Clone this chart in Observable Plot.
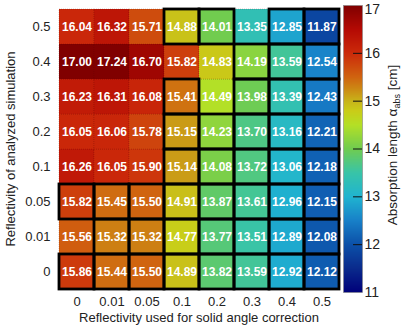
<!DOCTYPE html>
<html>
<head>
<meta charset="utf-8">
<script src="https://cdn.jsdelivr.net/npm/d3@7"></script>
<script src="https://cdn.jsdelivr.net/npm/@observablehq/plot@0.6"></script>
<style>
  html, body { margin: 0; padding: 0; background: #fff; }
  #wrap { position: relative; width: 409px; height: 325px; overflow: hidden; font-family: "Liberation Sans", Arial, Helvetica, sans-serif; }
  #wrap > svg, #wrap > figure { position: absolute; top: 0; margin: 0; }
</style>
</head>
<body>
<div id="wrap"></div>
<script>
// Categories (reflectivities)
const xCats = ["0", "0.01", "0.05", "0.1", "0.2", "0.3", "0.4", "0.5"]; // used for solid angle correction
const yCats = ["0", "0.01", "0.05", "0.1", "0.2", "0.3", "0.4", "0.5"]; // analyzed simulation

// Absorption length values, one array per analyzed-simulation reflectivity (row)
const row0    = [15.86, 15.44, 15.50, 14.89, 13.82, 13.59, 12.92, 12.12];
const row0_01 = [15.56, 15.32, 15.32, 14.77, 13.77, 13.51, 12.89, 12.08];
const row0_05 = [15.82, 15.45, 15.50, 14.91, 13.87, 13.61, 12.96, 12.15];
const row0_1  = [16.26, 16.05, 15.90, 15.14, 14.08, 13.72, 13.06, 12.18];
const row0_2  = [16.05, 16.06, 15.78, 15.15, 14.23, 13.70, 13.16, 12.21];
const row0_3  = [16.23, 16.31, 16.08, 15.41, 14.49, 13.98, 13.39, 12.43];
const row0_4  = [17.00, 17.24, 16.70, 15.82, 14.83, 14.19, 13.59, 12.54];
const row0_5  = [16.04, 16.32, 15.71, 14.88, 14.01, 13.35, 12.85, 11.87];

// Highlighted (black outlined) cells, per row
const hl0    = [1, 1, 1, 1, 1, 1, 1, 1];
const hl0_01 = [0, 1, 1, 1, 1, 1, 1, 1];
const hl0_05 = [1, 1, 1, 1, 1, 1, 1, 1];
const hl0_1  = [0, 0, 0, 1, 1, 1, 1, 1];
const hl0_2  = [0, 0, 0, 1, 1, 1, 1, 1];
const hl0_3  = [0, 0, 0, 1, 0, 1, 1, 1];
const hl0_4  = [0, 0, 0, 0, 0, 1, 1, 1];
const hl0_5  = [0, 0, 0, 1, 1, 0, 1, 1];

const colorTicks = [11, 12, 13, 14, 15, 16, 17];

const rows = [row0, row0_01, row0_05, row0_1, row0_2, row0_3, row0_4, row0_5];
const hls  = [hl0, hl0_01, hl0_05, hl0_1, hl0_2, hl0_3, hl0_4, hl0_5];
const data = [];
yCats.forEach((y, i) => xCats.forEach((x, j) => data.push({x, y, v: rows[i][j], hl: hls[i][j] === 1})));

const colorScale = {
  type: "linear",
  domain: [11, 11.5, 12, 12.5, 13, 13.5, 14, 14.5, 14.8, 15, 15.25, 15.5, 16, 16.5, 17],
  range: ["#00007a", "#0a2a8c", "#0c50a8", "#1880c8", "#20b4d0", "#38c4a8", "#70cc50", "#b4e026",
          "#cacc18", "#c8b41a", "#cc8a14", "#d06410", "#cc2a0a", "#b40a04", "#800000"],
  interpolate: "rgb",
  clamp: true
};

const font = "Liberation Sans, Arial, Helvetica, sans-serif";

const main = Plot.plot({
  width: 345,
  height: 325,
  marginLeft: 55,
  marginRight: 3,
  marginTop: 5,
  marginBottom: 33,
  style: {fontFamily: font, fontSize: "13px", background: "transparent", color: "#222"},
  x: {type: "band", domain: xCats, padding: 0},
  y: {type: "band", domain: yCats.slice().reverse(), padding: 0},
  color: colorScale,
  marks: [
    Plot.cell(data, {x: "x", y: "y", fill: "v", inset: 0, stroke: "#5a0000", strokeOpacity: 0.35, strokeWidth: 0.6, strokeDasharray: "1,1"}),
    Plot.cell(data.filter(d => d.hl), {x: "x", y: "y", fill: "none", stroke: "black", strokeWidth: 2.8, inset: 0}),
    Plot.text(data, {x: "x", y: "y", text: d => d.v.toFixed(2), fill: "white", fontWeight: "bold", fontSize: 12}),
    Plot.axisX({tickSize: 0, tickPadding: 4, fontSize: 13, label: "Reflectivity used for solid angle correction", labelAnchor: "center", labelArrow: "none", labelOffset: 29}),
    Plot.axisY({tickSize: 0, tickPadding: 5, fontSize: 13, label: "Reflectivity of analyzed simulation", labelAnchor: "center", labelArrow: "none", labelOffset: 50})
  ]
});
main.style.left = "0px";
document.getElementById("wrap").appendChild(main);

const bar = Plot.plot({
  width: 66,
  height: 325,
  marginLeft: 0,
  marginRight: 47,
  marginTop: 5,
  marginBottom: 33,
  style: {fontFamily: font, fontSize: "13px", background: "transparent", color: "#222"},
  x: {domain: [0, 19], axis: null},
  y: {domain: [11, 17], axis: null},
  color: colorScale,
  marks: [
    Plot.raster({x1: 0, x2: 19, y1: 11, y2: 17, fill: (x, y) => y, pixelSize: 1}),
    Plot.ruleY(colorTicks.slice(1, -1), {x1: 10, x2: 19, stroke: "#111", strokeWidth: 1}),
    Plot.frame({stroke: "#888", strokeWidth: 0.6}),
    Plot.text(colorTicks.slice(0, -1), {y: d => d, x: 19, dx: 2, textAnchor: "start", fontSize: 14, fill: "#222"}),
    Plot.text(colorTicks.slice(-1), {y: d => d, x: 19, dx: 2, dy: 4, textAnchor: "start", fontSize: 14, fill: "#222"})
  ]
});
bar.style.left = "343px";
document.getElementById("wrap").appendChild(bar);

// colorbar title with subscript
const t = d3.select(bar).append("text")
  .attr("transform", "translate(54,145) rotate(-90)")
  .attr("text-anchor", "middle")
  .attr("font-family", font)
  .attr("font-size", 13.5)
  .attr("fill", "#222");
t.append("tspan").text("Absorption length α");
t.append("tspan").attr("font-size", 9).attr("dy", 3).text("abs");
t.append("tspan").attr("dy", -3).text(" [cm]");
</script>
</body>
</html>
